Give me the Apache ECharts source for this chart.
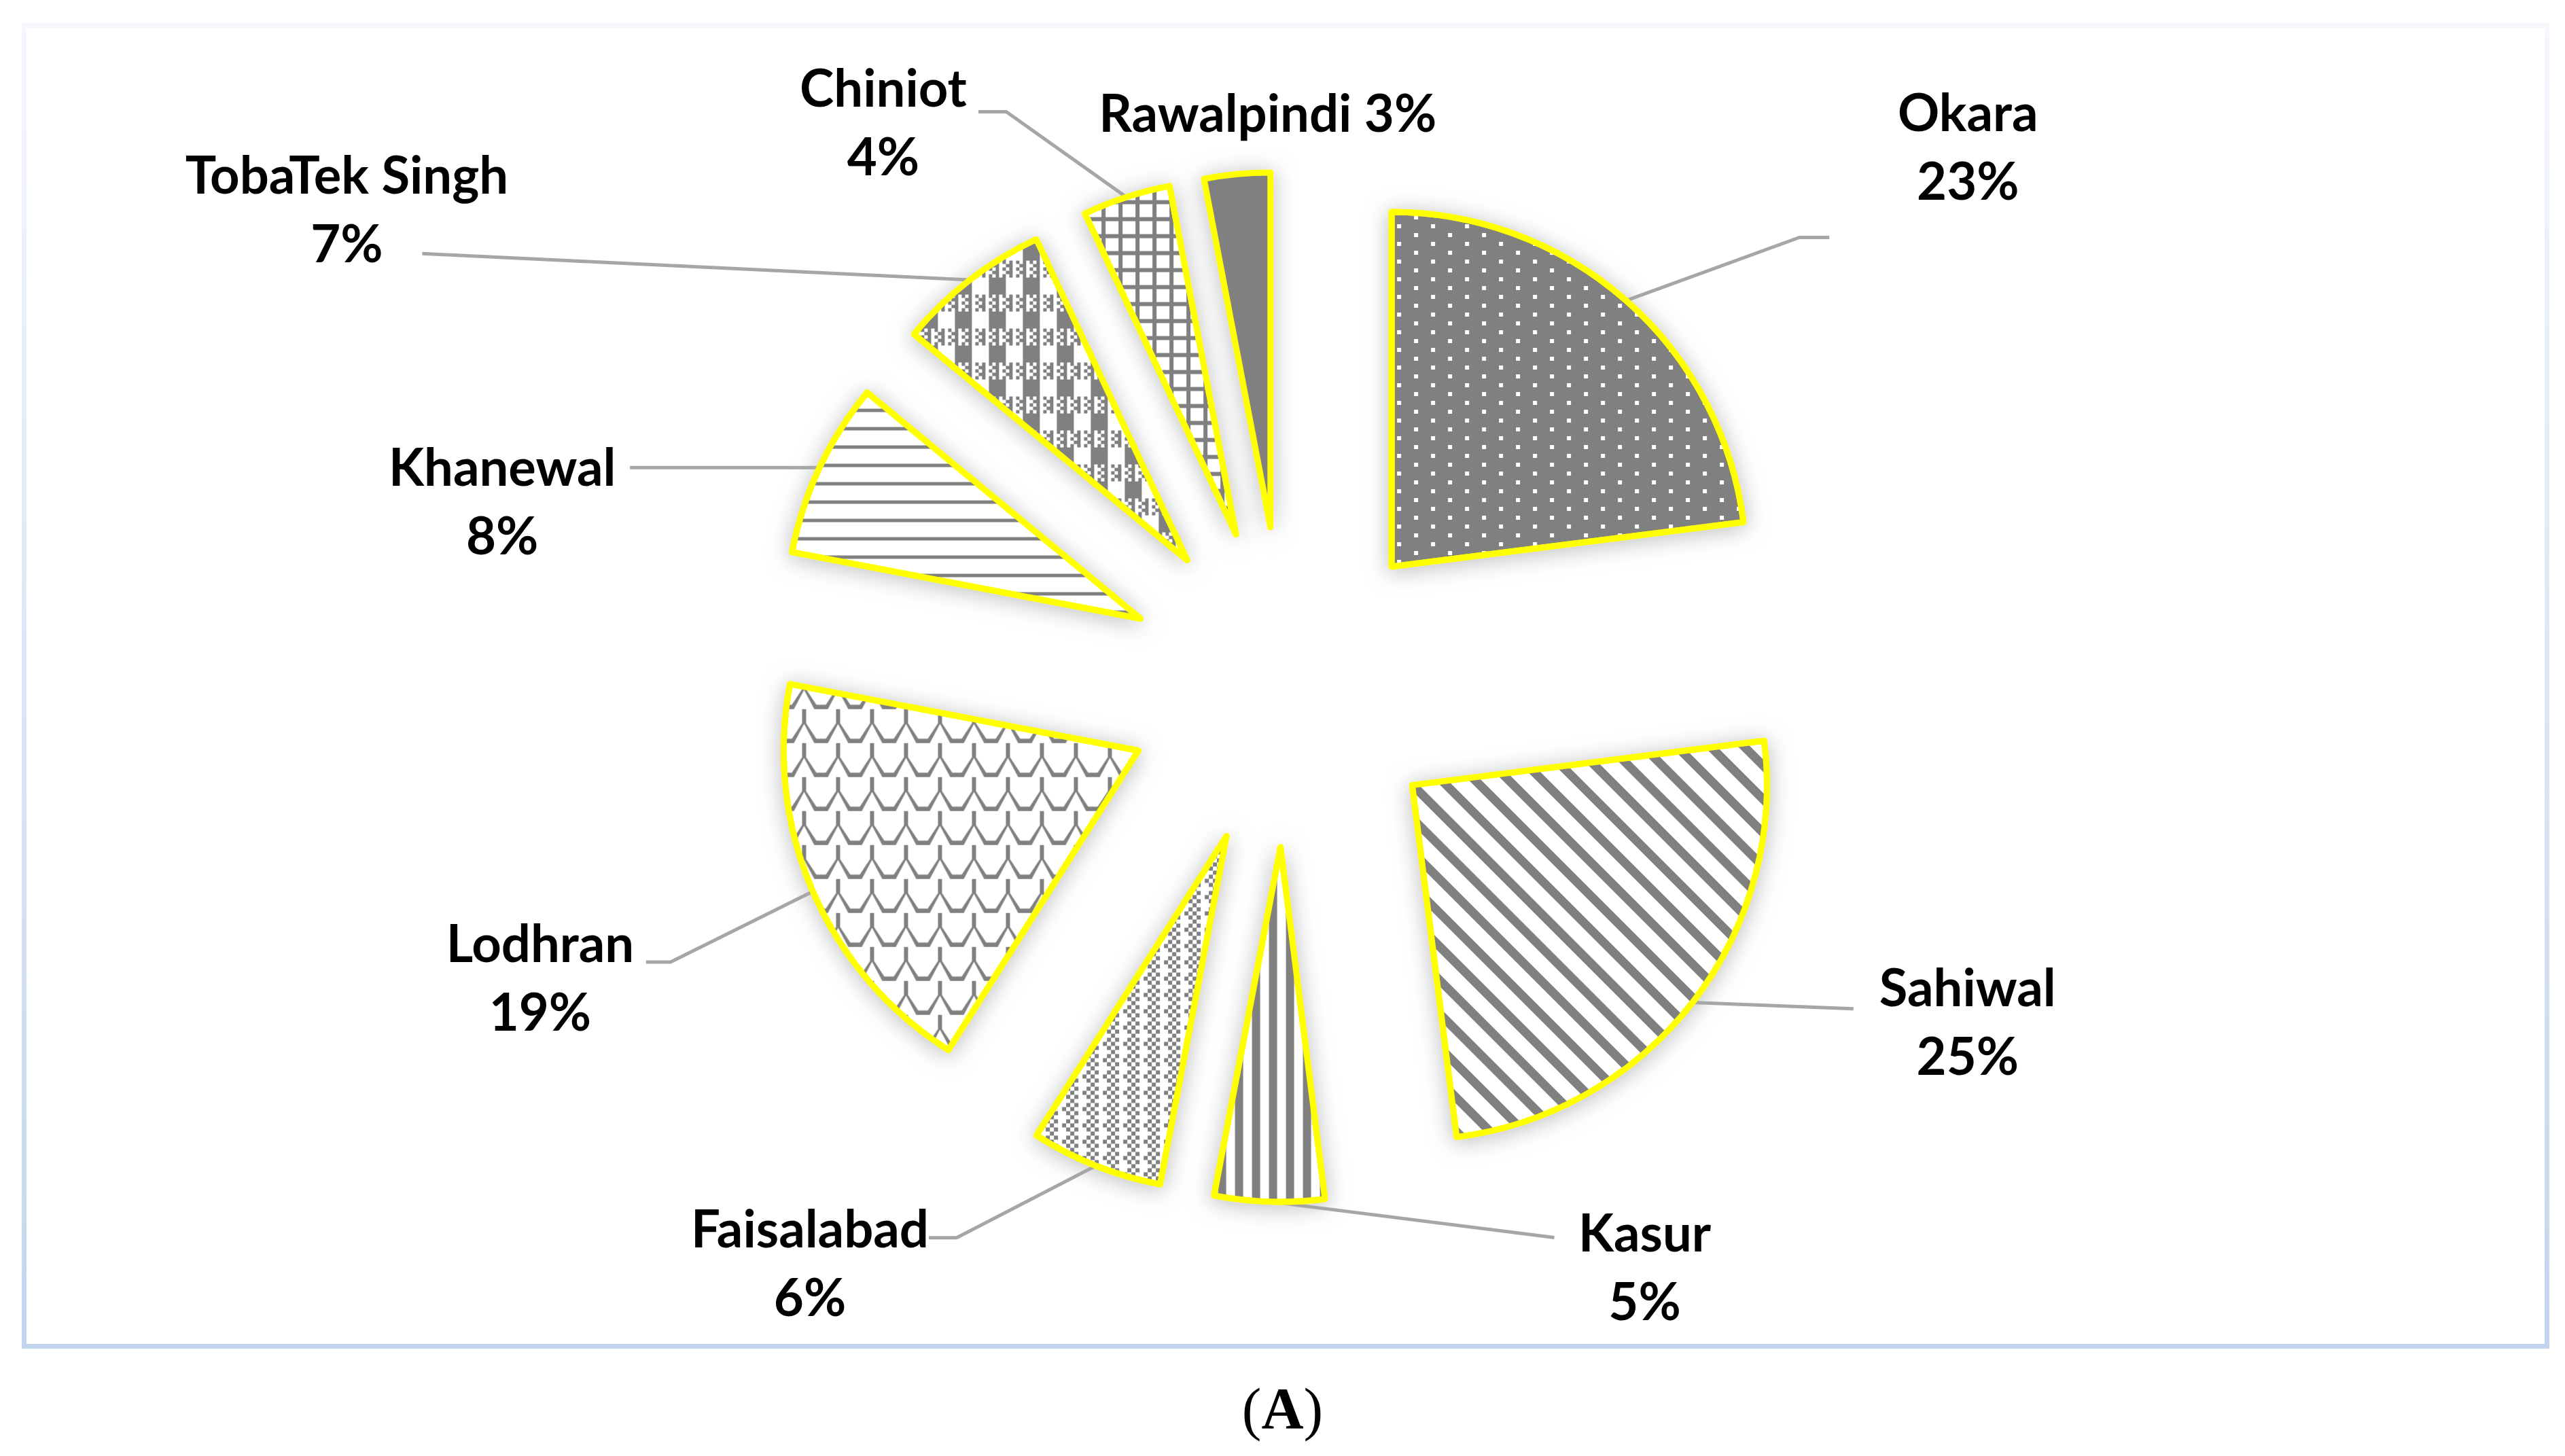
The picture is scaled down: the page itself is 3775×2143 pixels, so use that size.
<!DOCTYPE html>
<html>
<head>
<meta charset="utf-8">
<script src="https://cdn.jsdelivr.net/npm/echarts@6/dist/echarts.min.js"></script>
<style>
html,body{margin:0;padding:0;background:#ffffff;}
#chart{width:3775px;height:2143px;}
</style>
</head>
<body>
<div id="chart"></div>
<script>
// ---- data ----
const districts = ['Okara', 'Sahiwal', 'Kasur', 'Faisalabad', 'Lodhran', 'Khanewal', 'TobaTek Singh', 'Chiniot', 'Rawalpindi'];
const shares = [23, 25, 5, 6, 19, 8, 7, 4, 3];
const singleLineLabels = ['Rawalpindi'];
const noLeaderLine = ['Rawalpindi'];
const caption = 'A';

// ---- label layout config (leader line lengths and label offsets) ----
const lineLen  = [124, 15, 53, 114, 262, 0, 49, 132, 0];
const lineLen2 = [217, 225, -421, 204, 5, 279, 776, 177, 0];
const elbowLen = [44, 0, 0, 41, 36, 0, 0, 41, 0];
const labelDx  = [199, 163, 138, -170, -151, -183, -106, -135, 50];
const labelDy  = [-130, 22, 46, 40, 26, 53, -62, 18, -87];

// ---- styles ----
const GRAY = '#808080';
const WHITE = '#ffffff';
const lodhranScale = 'path://M0,0 L0,20 L15,46 L35,46 L50,20 L50,0 L47,0 L47,19 L32,40 L18,40 L3,19 L3,0 Z';
const fillStyles = [
  { color: GRAY,  decal: { symbol: 'rect', color: WHITE, symbolSize: 1, dashArrayX: [[6, 44], [0, 25, 6, 19]], dashArrayY: [6, 7] } },
  { color: WHITE, decal: { symbol: 'rect', color: GRAY, symbolSize: 1, dashArrayX: [1, 0], dashArrayY: [13, 22], rotation: Math.PI / 4 } },
  { color: WHITE, decal: { symbol: 'rect', color: GRAY, symbolSize: 1, dashArrayX: [12, 13], dashArrayY: [1, 0] } },
  { color: WHITE, decal: { symbol: 'rect', color: GRAY, symbolSize: 1,
      dashArrayX: [[6, 6, 6, 12], [0, 6, 6, 6, 6, 6], [0, 12, 6, 12], [0, 6, 6, 6, 6, 6]], dashArrayY: [6, 0] } },
  { color: WHITE, decal: { symbol: lodhranScale, color: GRAY, symbolSize: 1, symbolKeepAspect: false, dashArrayX: [50, 0], dashArrayY: [50, 0] } },
  { color: WHITE, decal: { symbol: 'rect', color: GRAY, symbolSize: 1, dashArrayX: [1, 0], dashArrayY: [5, 22] } },
  { color: WHITE, decal: { symbol: 'rect', color: GRAY, symbolSize: 1,
      dashArrayX: [[25, 25], [25, 25], [25, 25], [25, 25], [25, 25], [5, 5], [0, 5, 5], [5, 5], [0, 5, 5], [5, 5]],
      dashArrayY: [5, 0] } },
  { color: GRAY,  decal: { symbol: 'rect', color: WHITE, symbolSize: 1, dashArrayX: [19, 6], dashArrayY: [19, 6] } },
  { color: GRAY }
];
const borderStyle = { borderColor: '#ffff00', borderWidth: 9 };

const pieData = districts.map(function (name, i) {
  return {
    name: name,
    value: shares[i],
    selected: true,
    itemStyle: Object.assign({}, borderStyle, fillStyles[i]),
    labelLine: {
      show: noLeaderLine.indexOf(name) < 0,
      length: lineLen[i],
      length2: lineLen2[i]
    }
  };
});

// soft shadow layer drawn under the patterned slices (same values)
const shadowData = districts.map(function (name, i) {
  return { name: name, value: shares[i], selected: true };
});

const pieGeometry = {
  type: 'pie',
  center: [1892, 1011],
  radius: 522,
  startAngle: 90,
  clockwise: true,
  selectedMode: 'multiple',
  selectedOffset: 236,
  avoidLabelOverlap: false,
  emphasis: { disabled: true }
};

const chart = echarts.init(document.getElementById('chart'), null, { renderer: 'canvas' });
chart.setOption({
  animation: false,
  backgroundColor: '#ffffff',
  title: {
    text: '{p|(}{a|' + caption + '}{p|)}',
    left: 'center',
    top: 2030,
    textStyle: {
      rich: {
        p: { fontFamily: 'Liberation Serif', fontSize: 86, fontWeight: 'normal', color: '#000', lineHeight: 90 },
        a: { fontFamily: 'Liberation Serif', fontSize: 86, fontWeight: 'bold', color: '#000', lineHeight: 90 }
      }
    }
  },
  graphic: [{
    type: 'rect',
    silent: true,
    z: -10,
    shape: { x: 35.5, y: 37.5, width: 3713, height: 1944 },
    style: {
      fill: 'transparent',
      lineWidth: 7,
      stroke: {
        type: 'linear', x: 0, y: 0, x2: 0, y2: 1,
        colorStops: [{ offset: 0, color: '#f5f7fc' }, { offset: 1, color: '#c3d5ee' }]
      }
    }
  }],
  series: [
    Object.assign({}, pieGeometry, {
      name: 'shadow',
      z: 1,
      silent: true,
      label: { show: false },
      labelLine: { show: false },
      itemStyle: {
        color: WHITE,
        borderColor: WHITE,
        borderWidth: 9,
        shadowBlur: 32,
        shadowColor: 'rgba(0,0,0,0.22)',
        shadowOffsetX: 0,
        shadowOffsetY: 4
      },
      data: shadowData
    }),
    Object.assign({}, pieGeometry, {
      name: 'districts',
      z: 2,
      label: {
        show: true,
        position: 'outside',
        color: '#000000',
        fontFamily: 'Lato',
        fontWeight: 'bold',
        fontSize: 76,
        lineHeight: 101,
        formatter: function (p) {
          return singleLineLabels.indexOf(p.name) >= 0
            ? p.name + ' ' + p.value + '%'
            : p.name + '\n' + p.value + '%';
        }
      },
      labelLine: {
        show: true,
        smooth: false,
        lineStyle: { color: '#a6a6a6', width: 5 }
      },
      labelLayout: function (params) {
        const i = params.dataIndex;
        const res = { dx: labelDx[i], dy: labelDy[i], align: 'center' };
        const pts = params.labelLinePoints;
        if (pts && pts.length === 3) {
          const p0 = pts[0], p1 = pts[1], p2 = pts[2];
          const sign = (p2[0] - p1[0]) >= 0 ? 1 : -1;
          res.labelLinePoints = [[p0[0], p0[1]], [p2[0] - sign * elbowLen[i], p2[1]], [p2[0], p2[1]]];
        }
        return res;
      },
      data: pieData
    })
  ]
});
</script>
</body>
</html>
